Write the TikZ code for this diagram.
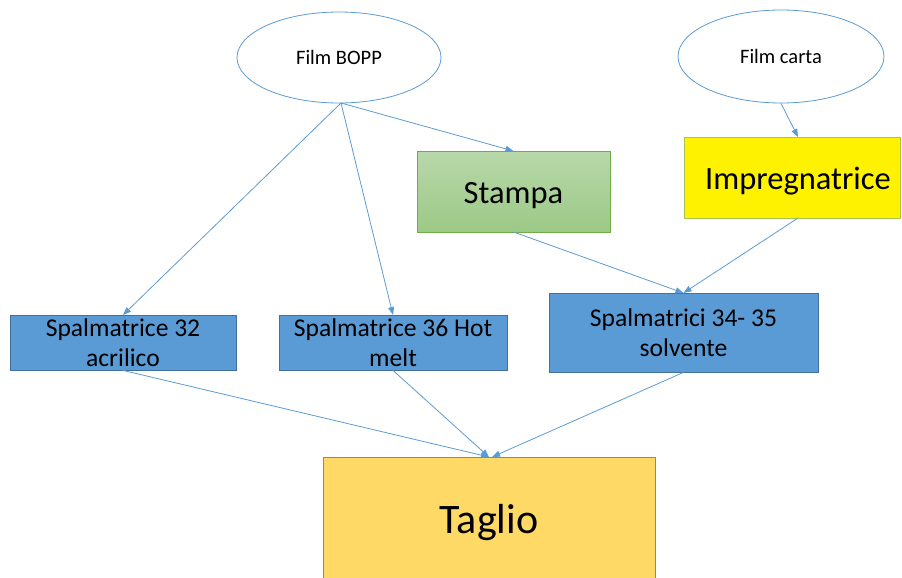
\documentclass[tikz,border=0pt]{standalone}
\usepackage{fontspec}
\setmainfont{Carlito}
\usetikzlibrary{shapes.geometric,arrows.meta}
\definecolor{lineblue}{HTML}{5B9BD5}
\definecolor{boxblue}{HTML}{5B9BD5}
\definecolor{boxedge}{HTML}{41719C}
\definecolor{greentop}{HTML}{B8D8AA}
\definecolor{greenbot}{HTML}{9CC986}
\definecolor{greenedge}{HTML}{70AD47}
\definecolor{yellowedge}{HTML}{A8C450}
\definecolor{gold}{HTML}{FFD966}
\definecolor{goldedge}{HTML}{6F8FAF}
% move a label down without changing the box size it reports
\newcommand{\lowered}[2]{\raisebox{-#1}[\height][\depth]{#2}}
\tikzset{
  source/.style={ellipse, draw=lineblue, line width=0.8pt, fill=white,
    font=\fontsize{20.5}{24}\selectfont, inner sep=0pt},
  machine/.style={rectangle, draw=boxedge, line width=0.8pt, fill=boxblue,
    font=\fontsize{25.6}{29.5}\selectfont, align=center, inner sep=0pt},
  flow/.style={draw=lineblue, line width=0.8pt,
    -{Triangle[length=8pt,width=6pt]}},
}
\begin{document}
\begin{tikzpicture}[x=1pt,y=-1pt]
\useasboundingbox (0,0) rectangle (902,578);
% raw material sources
\node[source, minimum width=204pt, minimum height=91pt] (bopp) at (339,57.5) {Film BOPP};
\node[source, minimum width=206pt, minimum height=93pt] (carta) at (781,56.5) {Film carta};
% first processing stages
\node[rectangle, draw=greenedge, line width=0.8pt, top color=greentop, bottom color=greenbot,
  minimum width=193pt, minimum height=81pt, font=\fontsize{32.5}{38}\selectfont, inner sep=0pt]
  (stampa) at (513.5,191.5) {\lowered{4pt}{Stampa}};
\node[rectangle, draw=yellowedge, line width=0.8pt, fill=yellow,
  minimum width=216pt, minimum height=81pt, font=\fontsize{32.5}{38}\selectfont, inner sep=0pt]
  (impr) at (792,177.5) {\lowered{4pt}{\hspace*{12pt}Impregnatrice}};
% coating machines
\node[machine, minimum width=226pt, minimum height=55pt] (sp32) at (123,342.5) {Spalmatrice 32\\acrilico};
\node[machine, minimum width=228pt, minimum height=55pt] (sp36) at (393,342.5) {Spalmatrice 36 Hot\\melt};
\node[machine, minimum width=269pt, minimum height=79pt] (sp34) at (683.5,332.5) {Spalmatrici 34- 35\\solvente};
% final stage
\node[rectangle, draw=goldedge, line width=0.8pt, fill=gold,
  minimum width=332pt, minimum height=128pt, font=\fontsize{42}{48}\selectfont, inner sep=0pt]
  (taglio) at (489,521) {\lowered{2pt}{Taglio}};
% connector end points
\coordinate (boppout) at (341,103);
\coordinate (stampain) at (513.5,151);
\coordinate (stampaout) at (513.5,232);
\coordinate (imprin) at (798,137);
\coordinate (improut) at (798,218);
\coordinate (sp32in) at (123,315);
\coordinate (sp36in) at (393,315);
\coordinate (sp34in) at (683.5,293);
\coordinate (tagliin) at (489,457);
\coordinate (tagliin2) at (492,457);
% connectors
\draw[flow] (boppout) -- (sp32in);
\draw[flow] (boppout) -- (sp36in);
\draw[flow] (boppout) -- (stampain);
\draw[flow] (carta.south) -- (imprin);
\draw[flow] (stampaout) -- (sp34in);
\draw[flow] (improut) -- (sp34in);
\draw[flow] (sp32.south) -- (tagliin);
\draw[flow] (sp36.south) -- (tagliin);
\draw[flow] (sp34.south) -- (tagliin2);
\end{tikzpicture}
\end{document}
